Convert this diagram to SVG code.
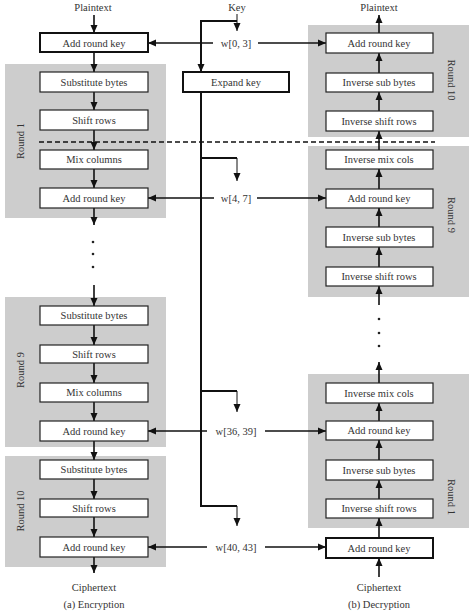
<svg xmlns="http://www.w3.org/2000/svg" width="474" height="614" viewBox="0 0 474 614">
<style>
.panel{fill:#cdcdcd;stroke:none}
.box{fill:#fff;stroke:#222;stroke-width:1.2}
.tbox{fill:#fff;stroke:#111;stroke-width:2}
text{font-family:"Liberation Serif","Times New Roman",serif;font-size:10.5px;fill:#333;text-anchor:middle}
.c{fill:none;stroke:#111;stroke-width:1.6}
.k{fill:none;stroke:#111;stroke-width:2}
.t{fill:none;stroke:#111;stroke-width:1}
.dash{fill:none;stroke:#111;stroke-width:1.6;stroke-dasharray:5 3}
.dot{fill:#222}
</style>
<defs>
<marker id="ah" markerUnits="userSpaceOnUse" markerWidth="8" markerHeight="8" viewBox="0 0 8 8" refX="8" refY="4" orient="auto">
<path d="M0,0.5 L8,4 L0,7.5 Z" fill="#111"/>
</marker>
</defs>
<rect width="474" height="614" fill="#fff"/>

<g id="panels">
<rect class="panel" x="5" y="64" width="161" height="154"/>
<rect class="panel" x="5" y="297" width="161" height="150"/>
<rect class="panel" x="5" y="456" width="161" height="111"/>
<rect class="panel" x="308" y="25" width="161" height="112"/>
<rect class="panel" x="308" y="146" width="161" height="151"/>
<rect class="panel" x="308" y="374" width="161" height="154"/>
<text transform="translate(24,141) rotate(-90)">Round 1</text>
<text transform="translate(24,370) rotate(-90)">Round 9</text>
<text transform="translate(24,511) rotate(-90)">Round 10</text>
<text transform="translate(448,80) rotate(90)">Round 10</text>
<text transform="translate(448,215) rotate(90)">Round 9</text>
<text transform="translate(448,497) rotate(90)">Round 1</text>
</g>

<g id="connectors">
<line class="dash" x1="39" y1="142" x2="435" y2="142"/>
<!-- encryption column -->
<line class="c" x1="94" y1="15" x2="94" y2="33" marker-end="url(#ah)"/>
<line class="c" x1="94" y1="52" x2="94" y2="72" marker-end="url(#ah)"/>
<line class="c" x1="94" y1="92" x2="94" y2="110" marker-end="url(#ah)"/>
<line class="c" x1="94" y1="130" x2="94" y2="150" marker-end="url(#ah)"/>
<line class="c" x1="94" y1="169" x2="94" y2="188" marker-end="url(#ah)"/>
<line class="c" x1="94" y1="208" x2="94" y2="225" marker-end="url(#ah)"/>
<line class="c" x1="94" y1="285" x2="94" y2="306" marker-end="url(#ah)"/>
<line class="c" x1="94" y1="325" x2="94" y2="345" marker-end="url(#ah)"/>
<line class="c" x1="94" y1="363" x2="94" y2="383" marker-end="url(#ah)"/>
<line class="c" x1="94" y1="402" x2="94" y2="421" marker-end="url(#ah)"/>
<line class="c" x1="94" y1="441" x2="94" y2="460" marker-end="url(#ah)"/>
<line class="c" x1="94" y1="479" x2="94" y2="499" marker-end="url(#ah)"/>
<line class="c" x1="94" y1="517" x2="94" y2="537" marker-end="url(#ah)"/>
<line class="c" x1="94" y1="557" x2="94" y2="573" marker-end="url(#ah)"/>
<circle class="dot" cx="93" cy="242" r="1.3"/>
<circle class="dot" cx="93" cy="254" r="1.3"/>
<circle class="dot" cx="93" cy="267" r="1.3"/>
<!-- decryption column -->
<line class="c" x1="379" y1="33" x2="379" y2="15" marker-end="url(#ah)"/>
<line class="c" x1="379" y1="73" x2="379" y2="53" marker-end="url(#ah)"/>
<line class="c" x1="379" y1="111" x2="379" y2="92" marker-end="url(#ah)"/>
<line class="c" x1="379" y1="150" x2="379" y2="131" marker-end="url(#ah)"/>
<line class="c" x1="379" y1="189" x2="379" y2="169" marker-end="url(#ah)"/>
<line class="c" x1="379" y1="227" x2="379" y2="208" marker-end="url(#ah)"/>
<line class="c" x1="379" y1="267" x2="379" y2="247" marker-end="url(#ah)"/>
<line class="c" x1="379" y1="305" x2="379" y2="286" marker-end="url(#ah)"/>
<circle class="dot" cx="379" cy="319" r="1.3"/>
<circle class="dot" cx="379" cy="333" r="1.3"/>
<circle class="dot" cx="379" cy="346" r="1.3"/>
<line class="c" x1="379" y1="383" x2="379" y2="362" marker-end="url(#ah)"/>
<line class="c" x1="379" y1="421" x2="379" y2="403" marker-end="url(#ah)"/>
<line class="c" x1="379" y1="460" x2="379" y2="440" marker-end="url(#ah)"/>
<line class="c" x1="379" y1="499" x2="379" y2="480" marker-end="url(#ah)"/>
<line class="c" x1="379" y1="538" x2="379" y2="518" marker-end="url(#ah)"/>
<line class="c" x1="379" y1="577" x2="379" y2="558" marker-end="url(#ah)"/>
<!-- key schedule -->
<line class="t" x1="237" y1="14" x2="237" y2="31" marker-end="url(#ah)"/>
<polyline class="k" points="237,21 201,21 201,72" marker-end="url(#ah)"/>
<line class="k" x1="201" y1="92" x2="201" y2="507"/>
<polyline class="k" points="201,158 237,158"/>
<line class="t" x1="237" y1="158" x2="237" y2="181" marker-end="url(#ah)"/>
<polyline class="k" points="201,391 237,391"/>
<line class="t" x1="237" y1="391" x2="237" y2="412" marker-end="url(#ah)"/>
<polyline class="k" points="201,506 237,506"/>
<line class="t" x1="237" y1="506" x2="237" y2="526" marker-end="url(#ah)"/>
<!-- round key lines -->
<line class="c" x1="213" y1="43" x2="148" y2="43" marker-end="url(#ah)"/>
<line class="c" x1="258" y1="43" x2="326" y2="43" marker-end="url(#ah)"/>
<line class="c" x1="214" y1="198" x2="148" y2="198" marker-end="url(#ah)"/>
<line class="c" x1="257" y1="198" x2="326" y2="198" marker-end="url(#ah)"/>
<line class="c" x1="207" y1="431" x2="148" y2="431" marker-end="url(#ah)"/>
<line class="c" x1="265" y1="431" x2="326" y2="431" marker-end="url(#ah)"/>
<line class="c" x1="207" y1="547" x2="148" y2="547" marker-end="url(#ah)"/>
<line class="c" x1="265" y1="547" x2="326" y2="547" marker-end="url(#ah)"/>
</g>

<g id="labels">
<text x="93" y="11">Plaintext</text>
<text x="237" y="11">Key</text>
<text x="379" y="11">Plaintext</text>
<text x="236" y="47">w[0, 3]</text>
<text x="236" y="202">w[4, 7]</text>
<text x="236" y="435">w[36, 39]</text>
<text x="236" y="551">w[40, 43]</text>
<text x="94" y="591">Ciphertext</text>
<text x="94" y="608">(a) Encryption</text>
<text x="379" y="591">Ciphertext</text>
<text x="379" y="608">(b) Decryption</text>
</g>

<g id="enc-ark0"><rect class="tbox" x="40" y="33" width="108" height="19"/><text x="94" y="46.5">Add round key</text></g>
<g id="enc-r1-sb"><rect class="box" x="40" y="72" width="108" height="20"/><text x="94" y="85.5">Substitute bytes</text></g>
<g id="enc-r1-sr"><rect class="box" x="40" y="110" width="108" height="20"/><text x="94" y="123.5">Shift rows</text></g>
<g id="enc-r1-mc"><rect class="box" x="40" y="150" width="108" height="19"/><text x="94" y="163">Mix columns</text></g>
<g id="enc-r1-ark"><rect class="box" x="40" y="188" width="108" height="20"/><text x="94" y="201.5">Add round key</text></g>
<g id="enc-r9-sb"><rect class="box" x="40" y="306" width="108" height="19"/><text x="94" y="319">Substitute bytes</text></g>
<g id="enc-r9-sr"><rect class="box" x="40" y="345" width="108" height="18"/><text x="94" y="357.5">Shift rows</text></g>
<g id="enc-r9-mc"><rect class="box" x="40" y="383" width="108" height="19"/><text x="94" y="396">Mix columns</text></g>
<g id="enc-r9-ark"><rect class="box" x="40" y="421" width="108" height="20"/><text x="94" y="434.5">Add round key</text></g>
<g id="enc-r10-sb"><rect class="box" x="40" y="460" width="108" height="19"/><text x="94" y="473">Substitute bytes</text></g>
<g id="enc-r10-sr"><rect class="box" x="40" y="499" width="108" height="18"/><text x="94" y="511.5">Shift rows</text></g>
<g id="enc-r10-ark"><rect class="box" x="40" y="537" width="108" height="20"/><text x="94" y="550.5">Add round key</text></g>

<g id="expand-key"><rect class="tbox" x="183" y="72" width="106" height="20"/><text x="236" y="85.5">Expand key</text></g>

<g id="dec-r10-ark"><rect class="box" x="326" y="33" width="107" height="20"/><text x="379" y="46.5">Add round key</text></g>
<g id="dec-r10-isb"><rect class="box" x="326" y="73" width="107" height="19"/><text x="379" y="86">Inverse sub bytes</text></g>
<g id="dec-r10-isr"><rect class="box" x="326" y="111" width="107" height="20"/><text x="379" y="124.5">Inverse shift rows</text></g>
<g id="dec-r9-imc"><rect class="box" x="326" y="150" width="107" height="19"/><text x="379" y="163">Inverse mix cols</text></g>
<g id="dec-r9-ark"><rect class="box" x="326" y="189" width="107" height="19"/><text x="379" y="202">Add round key</text></g>
<g id="dec-r9-isb"><rect class="box" x="326" y="227" width="107" height="20"/><text x="379" y="240.5">Inverse sub bytes</text></g>
<g id="dec-r9-isr"><rect class="box" x="326" y="267" width="107" height="19"/><text x="379" y="280">Inverse shift rows</text></g>
<g id="dec-r1-imc"><rect class="box" x="326" y="383" width="107" height="20"/><text x="379" y="396.5">Inverse mix cols</text></g>
<g id="dec-r1-ark"><rect class="box" x="326" y="421" width="107" height="19"/><text x="379" y="434">Add round key</text></g>
<g id="dec-r1-isb"><rect class="box" x="326" y="460" width="107" height="20"/><text x="379" y="473.5">Inverse sub bytes</text></g>
<g id="dec-r1-isr"><rect class="box" x="326" y="499" width="107" height="19"/><text x="379" y="512">Inverse shift rows</text></g>
<g id="dec-ark0"><rect class="tbox" x="326" y="538" width="107" height="20"/><text x="379" y="551.5">Add round key</text></g>
</svg>
